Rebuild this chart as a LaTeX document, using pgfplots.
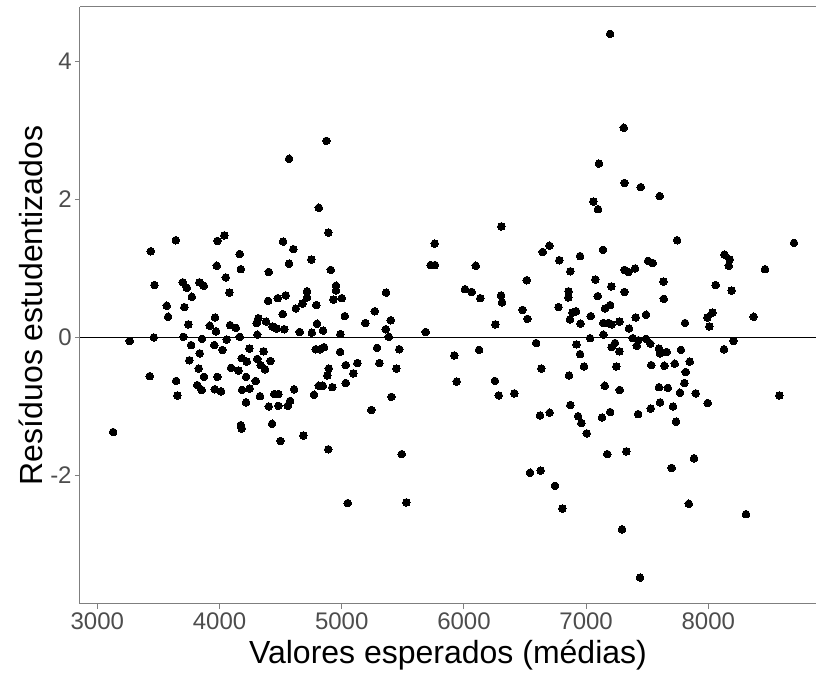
\documentclass[border=0pt]{standalone}
\usepackage{fontspec}
\setmainfont{Liberation Sans}
\usepackage{pgfplots}
\usepackage{pgfplotstable}
\pgfplotsset{compat=1.18}

\definecolor{panelline}{HTML}{7F7F7F}
\definecolor{ticktext}{HTML}{4D4D4D}

% fitted values and studentized residuals
\pgfplotstableread{
fit res
3437 1.25
3642 1.41
3982 1.40
4039 1.48
4165 1.21
3977 1.04
4174 0.99
4403 0.95
3467 0.76
3699 0.80
3732 0.72
3835 0.80
3871 0.75
4051 0.87
4080 0.65
3773 0.59
3568 0.46
3712 0.44
4397 0.53
3579 0.30
3963 0.29
3745 0.19
3920 0.17
3971 0.09
4086 0.18
4133 0.14
4318 0.28
4304 0.21
4381 0.23
4309 0.04
4165 0.01
4059 -0.03
3857 -0.02
3704 0.01
3462 0.00
3265 -0.05
3767 -0.11
3957 -0.11
4023 -0.18
4244 -0.16
4360 -0.20
3838 -0.23
3753 -0.33
4182 -0.30
4223 -0.35
4309 -0.31
4337 -0.40
4372 -0.46
3830 -0.45
4094 -0.44
4154 -0.48
3429 -0.56
3873 -0.57
3982 -0.57
4217 -0.57
4296 -0.63
3644 -0.63
3818 -0.69
3854 -0.76
3961 -0.75
4012 -0.78
4184 -0.76
4247 -0.74
3655 -0.84
4331 -0.85
4217 -0.94
4403 -1.00
4174 -1.27
4182 -1.32
3129 -1.37
4430 -1.25
4890 1.52
4520 1.39
4604 1.28
4751 1.13
4569 1.07
4910 0.98
4953 0.75
4953 0.68
4716 0.67
4716 0.58
4678 0.49
4624 0.42
4792 0.47
4931 0.55
5000 0.57
4476 0.57
4542 0.61
4517 0.34
5025 0.31
5270 0.38
5363 0.65
5193 0.21
5401 0.25
5360 0.12
5385 0.01
5687 0.08
5761 1.36
5728 1.05
5763 1.05
6009 0.70
4432 0.16
4468 0.13
4530 0.12
4656 0.08
4755 0.07
4798 0.20
4847 0.10
4989 0.05
4787 -0.17
4822 -0.17
4855 -0.14
4986 -0.21
5289 -0.15
5471 -0.17
4416 -0.34
5033 -0.40
5128 -0.37
5095 -0.52
4894 -0.45
4882 -0.55
5308 -0.37
5447 -0.45
5033 -0.66
4923 -0.72
4845 -0.70
4812 -0.70
4610 -0.75
4448 -0.82
4481 -0.82
4773 -0.83
4577 -0.92
4558 -0.99
4481 -0.99
5406 -0.86
5242 -1.05
5921 -0.26
5941 -0.64
4498 -1.50
4686 -1.42
4874 2.85
4569 2.59
4812 1.88
4890 -1.62
5049 -2.40
5491 -1.69
5529 -2.39
6064 0.66
6097 1.04
6134 0.57
6306 1.61
6304 0.61
6312 0.51
6480 0.40
6514 0.83
6519 0.27
6257 0.19
6124 -0.18
6590 -0.08
6633 -0.45
6254 -0.63
6285 -0.84
6412 -0.81
6623 -1.13
6702 -1.09
6541 -1.96
6628 -1.93
6745 -2.15
6805 -2.48
6645 1.24
6699 1.33
6781 1.12
6774 0.44
6950 1.18
7138 1.27
6871 0.96
7744 1.41
7313 0.98
7345 0.95
7400 1.00
7507 1.11
7545 1.08
7075 0.84
7206 0.74
7313 0.66
7632 0.81
7635 0.56
6856 0.67
6854 0.58
7095 0.60
6889 0.36
6917 0.38
6867 0.26
6954 0.20
7038 0.31
7155 0.42
7196 0.47
7141 0.21
7182 0.21
7209 0.19
7272 0.23
7406 0.29
7490 0.33
7351 0.13
7032 -0.01
7141 0.04
7381 -0.01
7427 -0.04
7490 -0.02
7414 -0.12
7525 -0.09
6921 -0.10
7236 -0.08
7209 -0.14
7272 -0.20
7596 -0.16
7605 -0.23
7659 -0.21
7776 -0.18
6950 -0.24
6983 -0.42
7247 -0.42
7533 -0.40
7640 -0.41
7725 -0.38
6860 -0.55
7152 -0.70
7275 -0.76
7596 -0.72
7668 -0.73
7605 -0.94
7529 -1.03
7711 -1.00
6871 -0.98
6934 -1.14
6961 -1.24
7005 -1.39
7130 -1.16
7196 -1.08
7425 -1.11
7736 -1.22
7768 -0.80
8701 1.37
8131 1.20
8175 1.13
8167 1.04
8464 0.99
8060 0.76
8191 0.68
8033 0.36
7992 0.29
8008 0.16
8371 0.30
7809 0.21
8205 -0.05
8128 -0.17
7848 -0.35
7815 -0.50
7804 -0.66
7897 -0.81
7995 -0.95
8581 -0.84
7196 4.40
7308 3.04
7105 2.52
7313 2.24
7447 2.18
7602 2.05
7059 1.97
7097 1.86
7441 -3.48
7294 -2.78
8308 -2.56
7840 -2.41
7173 -1.69
7329 -1.65
7700 -1.89
7883 -1.75
}\residuals

\begin{document}
\begin{tikzpicture}
\begin{axis}[
  scale only axis,
  width=368pt, height=298.5pt,
  xmin=2858, xmax=8881,
  ymin=-3.862, ymax=4.790,
  axis x line*=box,
  axis y line*=left,
  axis line style={panelline, line width=0.5pt},
  xtick={3000,4000,5000,6000,7000,8000},
  xticklabels={3000,4000,5000,6000,7000,8000},
  ytick={-2,0,2,4},
  yticklabels={-2,0,2,4},
  xtick pos=left, ytick pos=left,
  tick align=outside,
  major tick length=2.5pt,
  tick style={panelline, line width=0.5pt},
  ticklabel style={font=\fontsize{12}{14}\selectfont, text=ticktext},
  xticklabel style={inner sep=1.5pt},
  yticklabel style={inner sep=1.5pt},
  xlabel={Valores esperados (médias)},
  ylabel={Resíduos estudentizados},
  label style={font=\fontsize{16}{19}\selectfont, text=black},
  xlabel style={inner sep=0pt, yshift=-3.5pt},
  ylabel style={inner sep=0pt, yshift=2pt},
  clip=true,
]
\addplot[black, line width=0.75pt, mark=none] coordinates {(2858,0) (8881,0)};
\addplot[only marks, mark=*, mark size=1.9pt,
  mark options={fill=black, draw=black, line width=0pt}]
  table[x=fit, y=res] {\residuals};
\end{axis}
\pgfresetboundingbox
\path ([shift={(-40pt,-35.5pt)}]current axis.south west)
  rectangle ([shift={(0pt,3.5pt)}]current axis.north east);
\end{tikzpicture}
\end{document}
